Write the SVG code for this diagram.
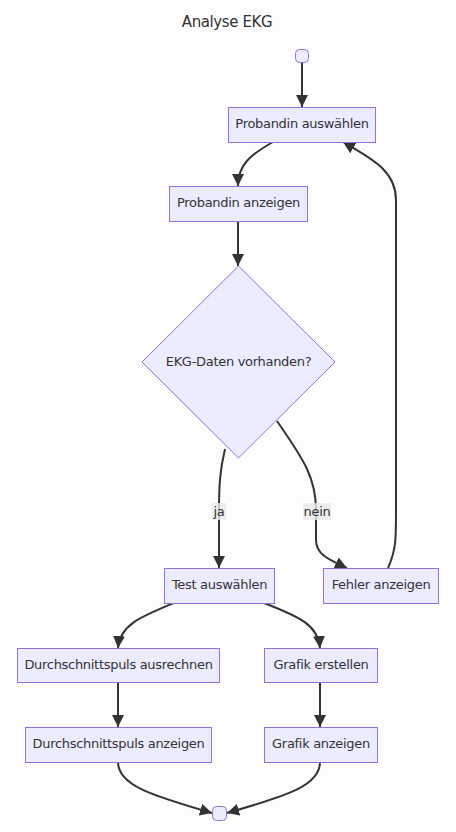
<svg xmlns="http://www.w3.org/2000/svg" width="456" height="832" viewBox="0 0 456 832">
<style>
.bg{fill:#fdfdfd}
.node rect,.node polygon{fill:#ECECFF;stroke:#9370DB;stroke-width:1}
.lbl{font-family:"DejaVu Sans",sans-serif;font-size:13px;letter-spacing:-0.3px;fill:#333;text-anchor:middle}
.title{font-family:"DejaVu Sans",sans-serif;font-size:15px;letter-spacing:-0.4px;fill:#333;text-anchor:middle}
.edge{fill:none;stroke:#333;stroke-width:2;marker-end:url(#arr)}
.elbg{fill:#e8e8e8;opacity:0.8}
</style>
<defs>
<marker id="arr" viewBox="0 0 10 10" refX="10" refY="5" markerUnits="userSpaceOnUse" markerWidth="12" markerHeight="12" orient="auto">
<path d="M0,0 L10,5 L0,10 z" fill="#333"/>
</marker>
</defs>
<rect class="bg" x="0" y="0" width="456" height="832"/>
<text class="title" x="227" y="27">Analyse EKG</text>
<g id="connectors">
<path class="edge" d="M302,62 L302,107"/>
<path class="edge" d="M273,142 C250,155 238,165 238,186"/>
<path class="edge" d="M238,221 L238,266"/>
<path class="edge" d="M225,449 C220,470 219,485 219,510 L219,568"/>
<path class="edge" d="M277,421 C300,455 316,475 316,510 L316,540 C316,555 330,560 347,568"/>
<path class="edge" d="M388,568 C396,550 396,540 396,510 L396,200 C396,170 370,158 343,142"/>
<path class="edge" d="M174,603 C140,617 120,625 118,648"/>
<path class="edge" d="M264,603 C300,617 318,625 320,648"/>
<path class="edge" d="M118,682 L118,727"/>
<path class="edge" d="M320,682 L320,727"/>
<path class="edge" d="M118,762 C118,785 150,795 212,813"/>
<path class="edge" d="M320,762 C320,785 290,795 227,813"/>
<g id="label-ja"><rect class="elbg" x="212" y="503" width="14" height="17"/><text class="lbl" x="219" y="515.5">ja</text></g>
<g id="label-nein"><rect class="elbg" x="303" y="503" width="28" height="17"/><text class="lbl" x="317" y="515.5">nein</text></g>
</g>
<g id="start" class="node"><rect x="295.5" y="49.5" width="13" height="13" rx="4"/></g>
<g id="probandin-auswaehlen" class="node"><rect x="228.5" y="107.5" width="147" height="35"/><text class="lbl" x="302" y="128">Probandin auswählen</text></g>
<g id="probandin-anzeigen" class="node"><rect x="169.5" y="186.5" width="138" height="35"/><text class="lbl" x="238.5" y="207">Probandin anzeigen</text></g>
<g id="ekg-daten" class="node"><polygon points="238.5,266 335,362 238.5,458 142,362"/><text class="lbl" x="238.5" y="365.5">EKG-Daten vorhanden?</text></g>
<g id="test-auswaehlen" class="node"><rect x="164.5" y="568.5" width="110" height="35"/><text class="lbl" x="219.5" y="589">Test auswählen</text></g>
<g id="fehler-anzeigen" class="node"><rect x="323.5" y="568.5" width="115" height="35"/><text class="lbl" x="381" y="589">Fehler anzeigen</text></g>
<g id="durchschnittspuls-ausrechnen" class="node"><rect x="17.5" y="648.5" width="202" height="34"/><text class="lbl" x="118.5" y="668.5">Durchschnittspuls ausrechnen</text></g>
<g id="grafik-erstellen" class="node"><rect x="264.5" y="648.5" width="113" height="34"/><text class="lbl" x="321" y="668.5">Grafik erstellen</text></g>
<g id="durchschnittspuls-anzeigen" class="node"><rect x="25.5" y="727.5" width="186" height="35"/><text class="lbl" x="118.5" y="748">Durchschnittspuls anzeigen</text></g>
<g id="grafik-anzeigen" class="node"><rect x="264.5" y="727.5" width="113" height="35"/><text class="lbl" x="321" y="748">Grafik anzeigen</text></g>
<g id="end" class="node"><rect x="212.5" y="806.5" width="14" height="14" rx="4"/></g>
</svg>
